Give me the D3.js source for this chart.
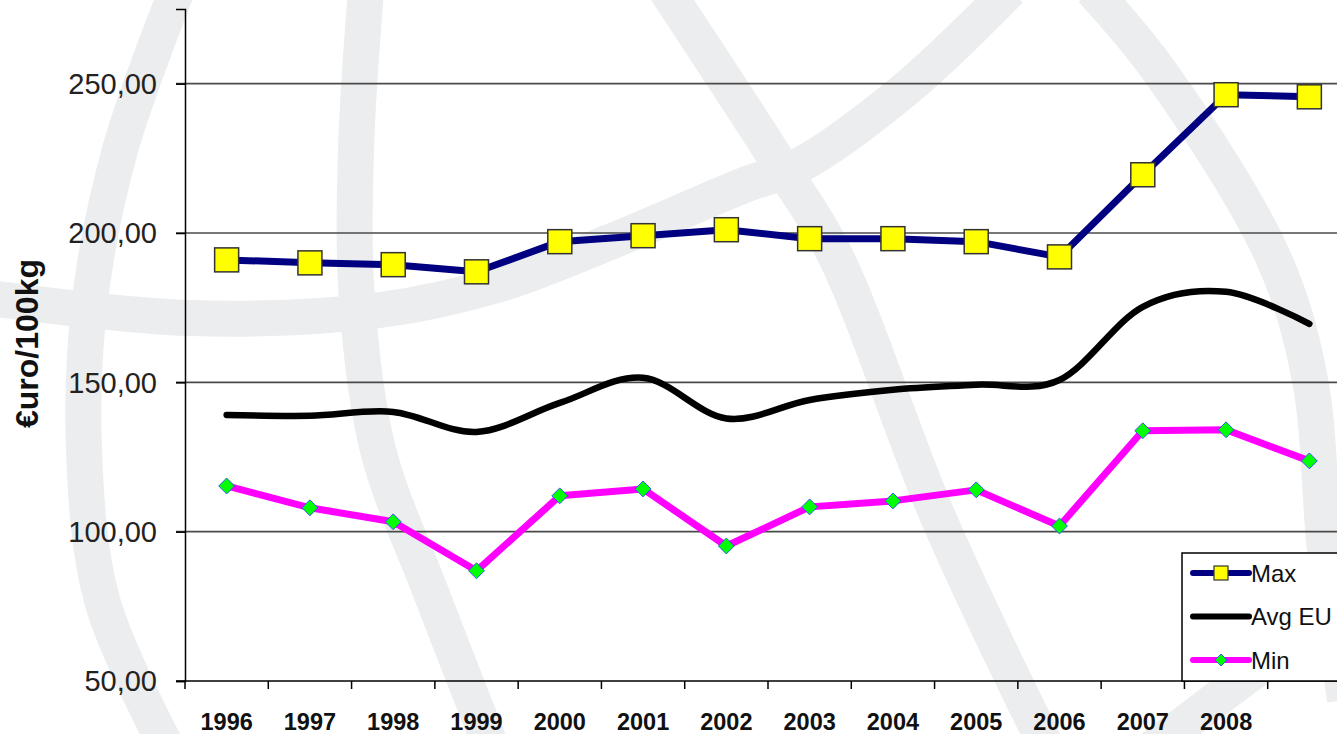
<!DOCTYPE html>
<html lang="en">
<head>
    <meta charset="UTF-8">
    <title>Prices line chart</title>
    <script src="https://d3js.org/d3.v7.min.js"></script>
    <style>
        html, body {
            margin: 0;
            background: #fff;
        }
        svg {
            display: block;
            font-family: "Liberation Sans", Arial, sans-serif;
        }
    </style>
</head>
<body>
<div id="vis"></div>
<script>
// data
var years = ['1996', '1997', '1998', '1999', '2000', '2001', '2002', '2003', '2004', '2005', '2006', '2007', '2008', '2009'];
var yearLabels = ['1996', '1997', '1998', '1999', '2000', '2001', '2002', '2003', '2004', '2005', '2006', '2007', '2008', ''];
var maxValues = [191.0, 190.0, 189.4, 187.0, 197.1, 199.1, 201.1, 198.1, 198.1, 197.1, 192.0, 219.5, 246.3, 245.6];
var avgValues = [139.1, 138.8, 140.1, 133.4, 143.1, 151.5, 137.9, 144.1, 147.5, 149.2, 150.8, 175.3, 180.3, 169.6];
var minValues = [115.3, 108.0, 103.3, 86.9, 112.0, 114.3, 95.2, 108.3, 110.3, 114.0, 101.9, 133.8, 134.1, 123.7];
var yTicks = [50, 100, 150, 200, 250];
var seriesNames = ['Max', 'Avg EU', 'Min'];

var width = 1337;
var height = 734;

var margin = {
    top: 9,
    bottom: 53,
    left: 185,
    right: -14
}

var svg = d3.select('#vis')
    .append('svg')
    .attr('width', width)
    .attr('height', height);

var innerW = width - margin.left - margin.right;
var innerH = height - margin.top - margin.bottom;

// background globe watermark (decoration only)
var watermark = [
    [[177, -10], [120, 150], [90, 300], [84, 450], [102, 600], [165, 744]],
    [[366, -10], [356, 150], [357, 300], [378, 450], [430, 590], [490, 744]],
    [[666, -10], [780, 165], [835, 255], [938, 517], [1045, 744]],
    [[-10, 298], [190, 318], [380, 310], [500, 284], [610, 242], [747, 184], [800, 165], [907, 88], [1010, -10]],
    [[1092, -10], [1160, 72], [1273, 257], [1310, 380], [1325, 550], [1345, 700]],
    [[1150, 750], [1260, 667], [1350, 605]]
];
var wmLine = d3.line().curve(d3.curveCatmullRom);
svg.append('g')
    .selectAll('path')
    .data(watermark)
    .enter()
    .append('path')
    .attr('d', function(d) { return wmLine(d); })
    .attr('fill', 'none')
    .attr('stroke', '#ecedee')
    .attr('stroke-width', 36);

var g = svg.append('g')
    .attr('transform', 'translate(' + margin.left + ',' + margin.top + ')');

var x_scale = d3.scaleBand()
    .domain(years)
    .range([0, innerW])
    .padding(0);

var y_scale = d3.scaleLinear()
    .domain([50, 275])
    .range([innerH, 0]);

function cx(i) {
    return x_scale(years[i]) + x_scale.bandwidth() / 2;
}

// gridlines
g.append('g')
    .selectAll('line')
    .data(yTicks.slice(1))
    .enter()
    .append('line')
    .attr('x1', -9)
    .attr('x2', innerW)
    .attr('y1', function(d) { return y_scale(d); })
    .attr('y2', function(d) { return y_scale(d); })
    .attr('stroke', '#4a4a4a')
    .attr('stroke-width', 1.6);

// y axis
var y_axis = d3.axisLeft(y_scale)
    .tickValues(yTicks)
    .tickSize(9)
    .tickPadding(19)
    .tickFormat(function(d) { return d3.format('.2f')(d).replace('.', ','); });

var yg = g.append('g')
    .attr('class', 'y axis')
    .call(y_axis);
yg.select('.domain').attr('stroke', '#000').attr('stroke-width', 1.5);
yg.selectAll('.tick line').attr('stroke', '#000').attr('stroke-width', 1.5);
yg.selectAll('.tick text')
    .attr('font-size', 29)
    .attr('font-family', '"Liberation Sans", Arial, sans-serif')
    .attr('fill', '#222')
    .attr('dy', '0.34em');

// x axis
g.append('line')
    .attr('x1', -9)
    .attr('x2', innerW)
    .attr('y1', innerH)
    .attr('y2', innerH)
    .attr('stroke', '#000')
    .attr('stroke-width', 1.5);

var bounds = years.map(function(d) { return x_scale(d); });
bounds.push(innerW);
g.append('g')
    .selectAll('line')
    .data(bounds)
    .enter()
    .append('line')
    .attr('x1', function(d) { return d; })
    .attr('x2', function(d) { return d; })
    .attr('y1', innerH)
    .attr('y2', innerH + 8)
    .attr('stroke', '#000')
    .attr('stroke-width', 1.5);

g.append('g')
    .selectAll('text')
    .data(yearLabels)
    .enter()
    .append('text')
    .attr('x', function(d, i) { return cx(i); })
    .attr('y', innerH + 49)
    .attr('text-anchor', 'middle')
    .attr('font-size', 23.5)
    .attr('font-weight', 'bold')
    .attr('fill', '#111')
    .text(function(d) { return d; });

// y title
svg.append('text')
    .attr('transform', 'translate(38,' + (margin.top + y_scale(163)) + ') rotate(-90)')
    .attr('text-anchor', 'middle')
    .attr('font-size', 32)
    .attr('font-weight', 'bold')
    .attr('fill', '#111')
    .text('€uro/100kg');

// lines
var straight = d3.line()
    .x(function(d, i) { return cx(i); })
    .y(function(d) { return y_scale(d); });

var smooth = d3.line()
    .x(function(d, i) { return cx(i); })
    .y(function(d) { return y_scale(d); })
    .curve(d3.curveCatmullRom.alpha(0));

g.append('path')
    .attr('d', straight(maxValues))
    .attr('fill', 'none')
    .attr('stroke', '#000080')
    .attr('stroke-width', 7)
    .attr('stroke-linejoin', 'round');

g.append('g')
    .selectAll('rect')
    .data(maxValues)
    .enter()
    .append('rect')
    .attr('x', function(d, i) { return cx(i) - 12; })
    .attr('y', function(d) { return y_scale(d) - 12; })
    .attr('width', 24)
    .attr('height', 24)
    .attr('fill', '#ffff00')
    .attr('stroke', '#333')
    .attr('stroke-width', 1.5);

g.append('path')
    .attr('d', smooth(avgValues))
    .attr('fill', 'none')
    .attr('stroke', '#000')
    .attr('stroke-width', 6.5)
    .attr('stroke-linecap', 'round');

g.append('path')
    .attr('d', straight(minValues))
    .attr('fill', 'none')
    .attr('stroke', '#ff00ff')
    .attr('stroke-width', 7)
    .attr('stroke-linejoin', 'round');

var diamond = d3.symbol().type(d3.symbolDiamond2).size(160);
g.append('g')
    .selectAll('path')
    .data(minValues)
    .enter()
    .append('path')
    .attr('d', diamond)
    .attr('transform', function(d, i) { return 'translate(' + cx(i) + ',' + y_scale(d) + ')'; })
    .attr('fill', '#00ff00')
    .attr('stroke', '#3355ee')
    .attr('stroke-width', 1);

// legend
var legend = svg.append('g')
    .attr('transform', 'translate(1182,553)');

legend.append('rect')
    .attr('x', 0)
    .attr('y', 0)
    .attr('width', 170)
    .attr('height', 128)
    .attr('fill', '#fff')
    .attr('stroke', '#000')
    .attr('stroke-width', 1.5);

var legendColours = ['#000080', '#000', '#ff00ff'];
var items = legend.selectAll('.item')
    .data(seriesNames)
    .enter()
    .append('g')
    .attr('class', 'item')
    .attr('transform', function(d, i) { return 'translate(0,' + (20 + i * 43.5) + ')'; });

items.append('line')
    .attr('x1', 11)
    .attr('x2', 67)
    .attr('stroke', function(d, i) { return legendColours[i]; })
    .attr('stroke-width', 6)
    .attr('stroke-linecap', 'round');

items.filter(function(d, i) { return i === 0; })
    .append('rect')
    .attr('x', 32)
    .attr('y', -7)
    .attr('width', 14)
    .attr('height', 14)
    .attr('fill', '#ffff00')
    .attr('stroke', '#333')
    .attr('stroke-width', 1.2);

items.filter(function(d, i) { return i === 2; })
    .append('path')
    .attr('d', d3.symbol().type(d3.symbolDiamond2).size(90))
    .attr('transform', 'translate(39,0)')
    .attr('fill', '#00ff00')
    .attr('stroke', '#3355ee')
    .attr('stroke-width', 1);

items.append('text')
    .attr('x', 69)
    .attr('y', 0)
    .attr('dy', '0.36em')
    .attr('font-size', 24)
    .attr('fill', '#111')
    .text(function(d) { return d; });
</script>
</body>
</html>
